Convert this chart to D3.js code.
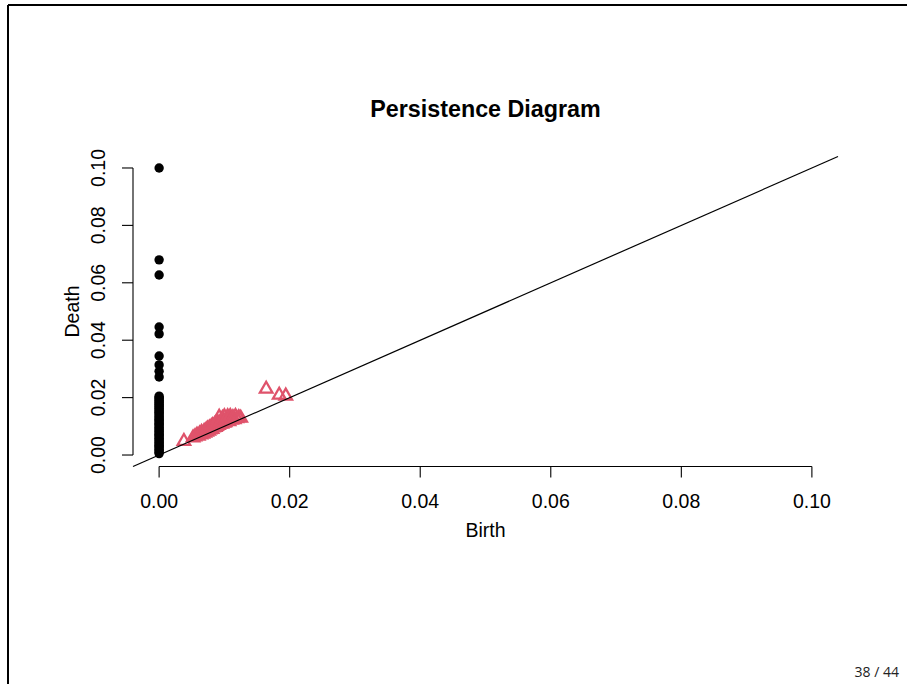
<!DOCTYPE html>
<html>
<head>
<meta charset="utf-8">
<script src="https://cdn.jsdelivr.net/npm/d3@7"></script>
<style>
  html, body { margin: 0; padding: 0; background: #fff; }
  svg { display: block; }
</style>
</head>
<body>
<svg id="chart" width="907" height="684"></svg>
<script>
// Dimension 0 features: all born at 0, listed by death time
const dim0Birth = 0;
const dim0Death = [
  0.100, 0.068, 0.0627, 0.0446, 0.0422, 0.0345, 0.0314, 0.0292, 0.0272,
  0.0205, 0.0200, 0.0196, 0.0191, 0.0186, 0.0182, 0.0177, 0.0172, 0.0168,
  0.0163, 0.0158, 0.0153, 0.0149, 0.0144, 0.0139, 0.0134, 0.0129, 0.0125,
  0.0120, 0.0115, 0.0110, 0.0106, 0.0101, 0.0096, 0.0091, 0.0087, 0.0082,
  0.0077, 0.0072, 0.0068, 0.0063, 0.0058, 0.0053, 0.0049, 0.0044, 0.0039,
  0.0034, 0.0030, 0.0025, 0.0020, 0.0015, 0.0010, 0.0005
];

// Dimension 1 features: birth / death pairs
const dim1Birth = [
  0.0038, 0.0052, 0.0055, 0.0058, 0.0060, 0.0062, 0.0064, 0.0065, 0.0067,
  0.0069, 0.0070, 0.0072, 0.0073, 0.0074, 0.0076, 0.0077, 0.0078, 0.0080,
  0.0081, 0.0082, 0.0083, 0.0085, 0.0086, 0.0087, 0.0088, 0.0090, 0.0091,
  0.0092, 0.0093, 0.0095, 0.0096, 0.0097, 0.0099, 0.0100, 0.0101, 0.0103,
  0.0104, 0.0105, 0.0107, 0.0108, 0.0109, 0.0111, 0.0113, 0.0115, 0.0117,
  0.0119, 0.0122, 0.0125, 0.0164, 0.0184, 0.0194
];
const dim1Death = [
  0.0048, 0.0060, 0.0064, 0.0070, 0.0066, 0.0074, 0.0071, 0.0079, 0.0073,
  0.0083, 0.0077, 0.0087, 0.0080, 0.0091, 0.0084, 0.0095, 0.0088, 0.0099,
  0.0090, 0.0103, 0.0095, 0.0106, 0.0097, 0.0110, 0.0100, 0.0113, 0.0104,
  0.0132, 0.0108, 0.0118, 0.0108, 0.0128, 0.0112, 0.0134, 0.0113, 0.0124,
  0.0118, 0.0134, 0.0117, 0.0128, 0.0135, 0.0122, 0.0131, 0.0124, 0.0135,
  0.0127, 0.0131, 0.0129, 0.0230, 0.0209, 0.0206
];

const xTicks = [0, 0.02, 0.04, 0.06, 0.08, 0.10];
const yTicks = [0, 0.02, 0.04, 0.06, 0.08, 0.10];
const fmt = d3.format(".2f");

const svg = d3.select("#chart");
const font = "'Liberation Sans', Arial, Helvetica, sans-serif";
const labelSize = 19.5;

// Slide frame
svg.append("line").attr("x1", 8).attr("y1", 5).attr("x2", 907).attr("y2", 5)
  .attr("stroke", "#000").attr("stroke-width", 2);
svg.append("line").attr("x1", 8).attr("y1", 5).attr("x2", 8).attr("y2", 684)
  .attr("stroke", "#000").attr("stroke-width", 2);

// Plot region spans the data range padded by 4% on each side
const x = d3.scaleLinear().domain([-0.004, 0.104]).range([133, 838]);
const y = d3.scaleLinear().domain([-0.004, 0.104]).range([466.5, 156.5]);

const plot = svg.append("g");

// X axis
const xAxis = svg.append("g").attr("transform", `translate(0,${y(-0.004)})`);
xAxis.append("line").attr("x1", x(0)).attr("x2", x(0.10))
  .attr("stroke", "#000").attr("stroke-width", 1.1);
xAxis.selectAll("line.tick").data(xTicks).join("line").attr("class", "tick")
  .attr("x1", d => x(d)).attr("x2", d => x(d)).attr("y1", 0).attr("y2", 11)
  .attr("stroke", "#000").attr("stroke-width", 1.1);
xAxis.selectAll("text").data(xTicks).join("text")
  .attr("x", d => x(d)).attr("y", 41)
  .attr("text-anchor", "middle")
  .attr("font-family", font).attr("font-size", labelSize)
  .text(d => fmt(d));

// Y axis (labels rotated, as in base R graphics)
const yAxis = svg.append("g").attr("transform", `translate(${x(-0.004)},0)`);
yAxis.append("line").attr("y1", y(0)).attr("y2", y(0.10))
  .attr("stroke", "#000").attr("stroke-width", 1.1);
yAxis.selectAll("line.tick").data(yTicks).join("line").attr("class", "tick")
  .attr("y1", d => y(d)).attr("y2", d => y(d)).attr("x1", 0).attr("x2", -11)
  .attr("stroke", "#000").attr("stroke-width", 1.1);
yAxis.selectAll("text").data(yTicks).join("text")
  .attr("transform", d => `translate(-28,${y(d)}) rotate(-90)`)
  .attr("text-anchor", "middle")
  .attr("font-family", font).attr("font-size", labelSize)
  .text(d => fmt(d));

// Axis titles and main title
svg.append("text").attr("x", (x(-0.004) + x(0.104)) / 2).attr("y", 537)
  .attr("text-anchor", "middle").attr("font-family", font).attr("font-size", labelSize)
  .text("Birth");
svg.append("text").attr("transform", `translate(79,${(y(-0.004) + y(0.104)) / 2}) rotate(-90)`)
  .attr("text-anchor", "middle").attr("font-family", font).attr("font-size", labelSize)
  .text("Death");
svg.append("text").attr("x", (x(-0.004) + x(0.104)) / 2).attr("y", 117)
  .attr("text-anchor", "middle").attr("font-family", font).attr("font-size", 23.3)
  .attr("font-weight", "bold")
  .text("Persistence Diagram");

// Dimension 0: filled black circles
plot.selectAll("circle.d0").data(dim0Death).join("circle").attr("class", "d0")
  .attr("cx", x(dim0Birth)).attr("cy", d => y(d)).attr("r", 4.7)
  .attr("fill", "#000");

// Dimension 1: open red triangles
const tri = d3.symbol().type(d3.symbolTriangle).size(68);
plot.selectAll("path.d1").data(dim1Birth.map((b, i) => [b, dim1Death[i]]))
  .join("path").attr("class", "d1")
  .attr("d", tri)
  .attr("transform", d => `translate(${x(d[0])},${y(d[1])})`)
  .attr("fill", "none").attr("stroke", "#DF536B").attr("stroke-width", 2.3)
  .attr("stroke-linejoin", "miter");

// Diagonal birth = death, drawn over the points and clipped to the plot region
plot.append("line")
  .attr("x1", x(-0.004)).attr("y1", y(-0.004))
  .attr("x2", x(0.104)).attr("y2", y(0.104))
  .attr("stroke", "#000").attr("stroke-width", 1.2);

// Slide number
svg.append("text").attr("x", 899).attr("y", 677).attr("text-anchor", "end")
  .attr("font-family", "'Open Sans', sans-serif").attr("font-size", 14).attr("fill", "#222")
  .text("38 / 44");
</script>
</body>
</html>
